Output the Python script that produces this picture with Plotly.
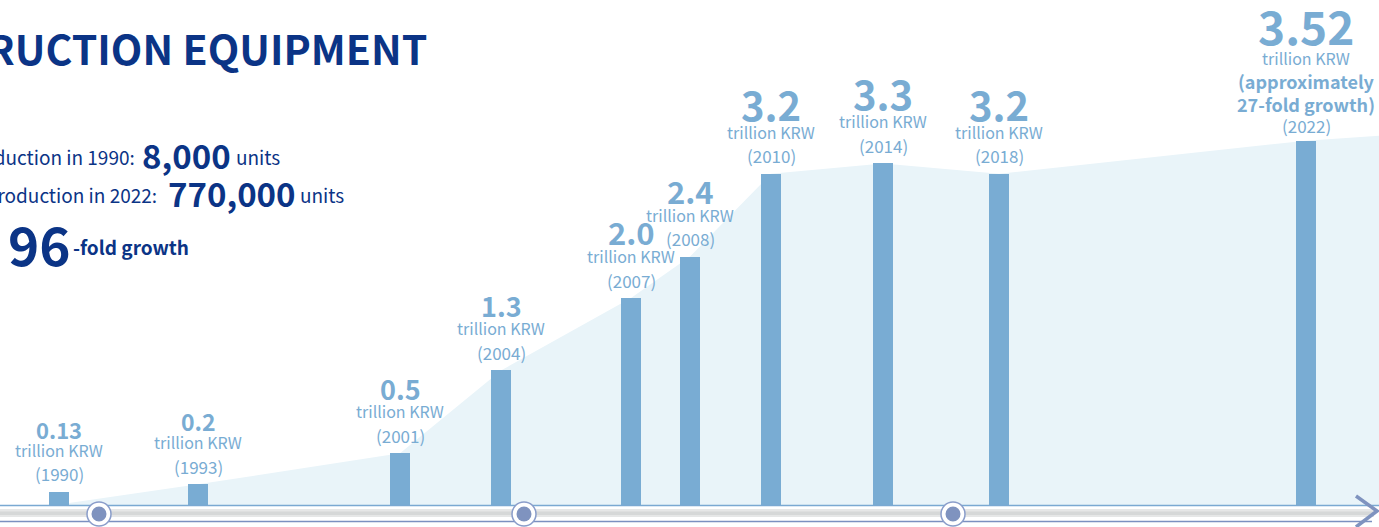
import plotly.graph_objects as go

# ---------------- data ----------------
years = ["1990", "1993", "2001", "2004", "2007", "2008", "2010", "2014", "2018", "2022"]
values = [0.13, 0.2, 0.5, 1.3, 2.0, 2.4, 3.2, 3.3, 3.2, 3.52]
value_labels = ["0.13", "0.2", "0.5", "1.3", "2.0", "2.4", "3.2", "3.3", "3.2", "3.52"]
unit_label = "trillion KRW"
growth_note = ["(approximately", "27-fold growth)"]

title_text = "CONSTRUCTION EQUIPMENT"
stat_1990 = ("Production in 1990:", "8,000", "units")
stat_2022 = ("Annual production in 2022:", "770,000", "units")
growth_fold = ("96", "-fold growth")

# ---------------- layout / style ----------------
W, H = 1379, 527
slot_x = [59, 198, 400, 501, 631, 690, 771, 883, 999, 1306]   # horizontal slots (px)
value_font = [22, 23, 27, 27, 31, 31, 40, 40, 40, 46]
timeline_dots = [99, 524, 953]

BAR = "#79acd3"
AREA = "#e9f4f9"
NAVY = "#0b3486"
DOT = "#7f93bf"
FONT = "Noto Sans CJK KR"

K = 103.5           # px per trillion
BASE = 505          # baseline px from top
y_rng = [-(H - BASE) / K, BASE / K]


def py(px):
    return 1 - px / H


fig = go.Figure()

# background envelope (base axes, drawn below)
fig.add_trace(go.Scatter(
    x=[slot_x[0] + 10] + slot_x[1:] + [W + 5],
    y=[0.02] + values[1:] + [values[-1] + 0.05],
    mode="lines", line=dict(width=0, shape="linear"),
    fill="tozeroy", fillcolor=AREA, hoverinfo="skip", showlegend=False))

# bars on overlaying axes so they sit above the envelope
fig.add_trace(go.Bar(x=slot_x, y=values, width=20, marker=dict(color=BAR, line=dict(width=0)),
                     xaxis="x2", yaxis="y2", showlegend=False, hoverinfo="skip"))

ann = []
for i, (x, v) in enumerate(zip(slot_x, values)):
    if years[i] == "2022":
        ann.append(dict(x=x, y=v, yshift=15, text="(" + years[i] + ")", font=dict(size=17, color=BAR)))
        ann.append(dict(x=x, y=v, yshift=37, text=growth_note[1], font=dict(size=18, color=BAR, weight=600)))
        ann.append(dict(x=x, y=v, yshift=60, text=growth_note[0], font=dict(size=18, color=BAR, weight=600)))
        ann.append(dict(x=x, y=v, yshift=83, text=unit_label, font=dict(size=16, color=BAR)))
        ann.append(dict(x=x, y=v, yshift=116, text=value_labels[i], font=dict(size=value_font[i], color=BAR, weight="bold")))
    else:
        ann.append(dict(x=x, y=v, yshift=18, text="(" + years[i] + ")", font=dict(size=17, color=BAR)))
        ann.append(dict(x=x, y=v, yshift=42, text=unit_label, font=dict(size=16, color=BAR)))
        ann.append(dict(x=x, y=v, yshift=54 + value_font[i] * 0.4, text=value_labels[i],
                        font=dict(size=value_font[i], color=BAR, weight="bold")))
for a in ann:
    a.update(xref="x", yref="y", xanchor="center", yanchor="middle", showarrow=False)


def ptext(text, xpx, ypx, size, anchor, weight="normal", color=NAVY):
    ann.append(dict(text=text, x=xpx / W, y=py(ypx), xref="paper", yref="paper",
                    xanchor=anchor, yanchor="middle", showarrow=False,
                    font=dict(size=size, color=color, family=FONT, weight=weight)))


ptext(title_text, 429, 47, 41, "right", "bold")
ptext(stat_1990[0], 137, 156, 19, "right")
ptext(stat_1990[1], 140, 155, 33, "left", "bold")
ptext(stat_1990[2], 234, 156, 19, "left")
ptext(stat_2022[0], 159, 194, 19, "right")
ptext(stat_2022[1], 166, 193, 33, "left", "bold")
ptext(stat_2022[2], 298, 194, 19, "left")
ptext(growth_fold[0], 6, 243, 53, "left", "bold")
ptext(growth_fold[1], 71, 246, 19, "left", "bold")

shapes = []
# timeline track
shapes.append(dict(type="line", xref="paper", yref="paper", x0=0, x1=1, y0=py(505.5), y1=py(505.5),
                   line=dict(color="#7aa9d2", width=1.5), layer="above"))
shapes.append(dict(type="rect", xref="x", yref="paper", x0=0, x1=1374, y0=py(509), y1=py(517),
                   fillcolor="#e6e7e7", line=dict(width=0), layer="above"))
shapes.append(dict(type="rect", xref="x", yref="paper", x0=0, x1=1374, y0=py(511.5), y1=py(515),
                   fillcolor="#d6d8d8", line=dict(width=0), layer="above"))
shapes.append(dict(type="line", xref="x", yref="paper", x0=0, x1=1372, y0=py(521.5), y1=py(521.5),
                   line=dict(color="#7b90c0", width=1.5), layer="above"))
for cx in timeline_dots:
    shapes.append(dict(type="circle", xref="x", yref="paper", x0=cx - 12, x1=cx + 12,
                       y0=py(514 + 12), y1=py(514 - 12),
                       fillcolor="white", line=dict(color="#8a9dca", width=1.5), layer="above"))
    shapes.append(dict(type="circle", xref="x", yref="paper", x0=cx - 7.5, x1=cx + 7.5,
                       y0=py(514 + 7.5), y1=py(514 - 7.5),
                       fillcolor=DOT, line=dict(width=0), layer="above"))
shapes.append(dict(type="path", xref="paper", yref="paper",
                   path=f"M {1356/W} {py(496)} L {1377/W} {py(511)} L {1356/W} {py(527)}",
                   line=dict(color=DOT, width=3.5), layer="above"))

fig.update_layout(
    width=W, height=H, margin=dict(l=0, r=0, t=0, b=0),
    paper_bgcolor="white", plot_bgcolor="white",
    font=dict(family=FONT),
    xaxis=dict(range=[0, W], visible=False, fixedrange=True),
    yaxis=dict(range=y_rng, visible=False, fixedrange=True),
    xaxis2=dict(range=[0, W], visible=False, fixedrange=True, overlaying="x"),
    yaxis2=dict(range=y_rng, visible=False, fixedrange=True, overlaying="y"),
    annotations=ann, shapes=shapes, showlegend=False, bargap=0,
)

fig.write_html("out.html", config={"displayModeBar": False})
